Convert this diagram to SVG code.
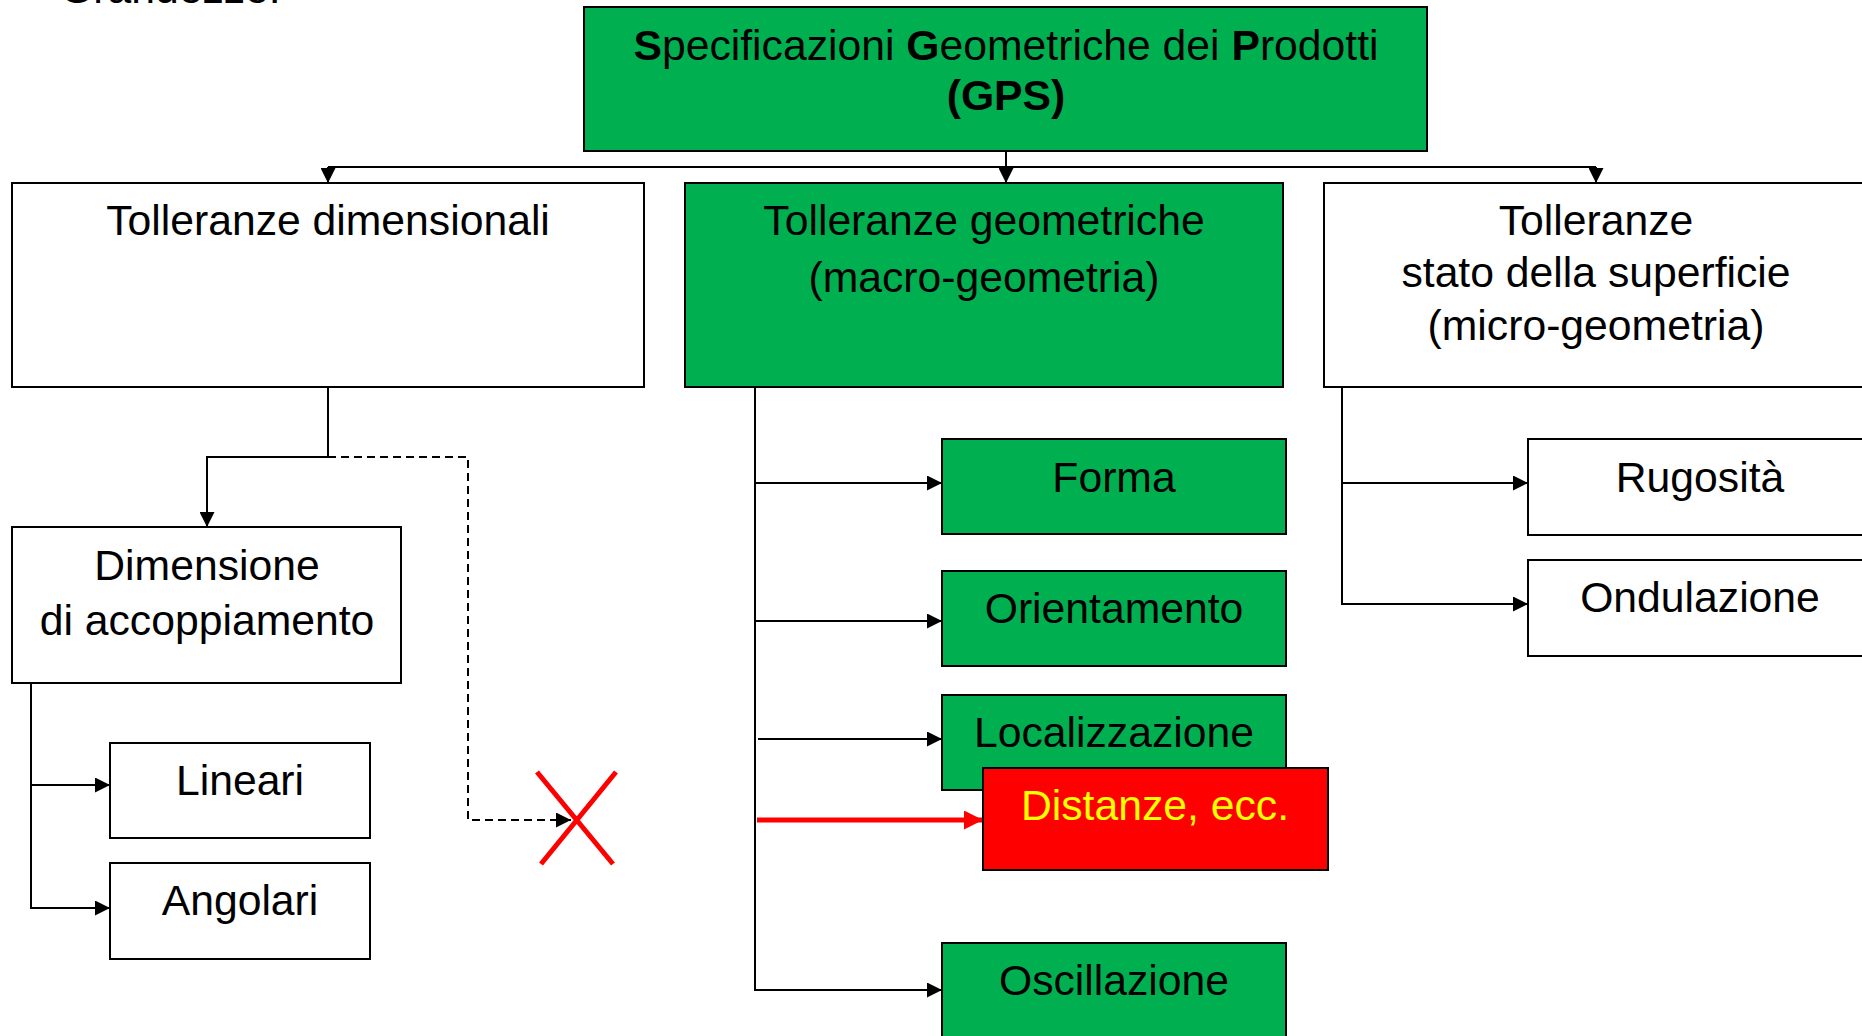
<svg xmlns="http://www.w3.org/2000/svg" width="1862" height="1036" viewBox="0 0 1862 1036">
<style>
text{font-family:"Liberation Sans",Arial,sans-serif;font-size:42.7px;fill:#000;text-anchor:middle}
.box{stroke:#000;stroke-width:2}
.w{fill:#fff}
.g{fill:#00B050}
.r{fill:#FF0000}
.c{fill:none;stroke:#000;stroke-width:2}
.a{marker-end:url(#ah)}
</style>
<defs>
<marker id="ah" markerUnits="userSpaceOnUse" markerWidth="15" markerHeight="15" refX="15" refY="7.5" orient="auto" viewBox="0 0 15 15"><path d="M0,0L15,7.5L0,15z" fill="#000"/></marker>
<marker id="ahr" markerUnits="userSpaceOnUse" markerWidth="19" markerHeight="19" refX="19" refY="9.5" orient="auto" viewBox="0 0 19 19"><path d="M0,0L19,9.5L0,19z" fill="#FF0000"/></marker>
</defs>
<rect width="1862" height="1036" fill="#fff"/>
<text x="60" y="3" style="text-anchor:start">Grandezze:</text>
<g id="connectors">
<path class="c a" d="M1006,151V183"/>
<path class="c" d="M328,167H1596"/>
<path class="c a" d="M328,167V183"/>
<path class="c a" d="M1596,167V183"/>
<path class="c a" d="M328,387V457H207V527"/>
<path class="c a" d="M328,457H468V820H571" stroke-dasharray="8,5"/>
<path class="c a" d="M31,683V908H110"/>
<path class="c a" d="M31,785H110"/>
<path class="c a" d="M755,387V990H942"/>
<path class="c a" d="M755,483H942"/>
<path class="c a" d="M755,621H942"/>
<path class="c a" d="M758,739H942"/>
<path d="M757,820H983" fill="none" stroke="#FF0000" stroke-width="5" marker-end="url(#ahr)"/>
<path class="c a" d="M1342,387V604H1528"/>
<path class="c a" d="M1342,483H1528"/>
</g>
<g id="cross">
<path d="M537,772L613,864M616,772L541,864" stroke="#FF0000" stroke-width="5" fill="none"/>
</g>
<g id="gps">
<rect class="box g" x="584" y="7" width="843" height="144"/>
<text x="1006" y="59.5"><tspan font-weight="bold">S</tspan>pecificazioni <tspan font-weight="bold">G</tspan>eometriche dei <tspan font-weight="bold">P</tspan>rodotti</text>
<text x="1006" y="110" font-weight="bold">(GPS)</text>
</g>
<g id="dimensionali">
<rect class="box w" x="12" y="183" width="632" height="204"/>
<text x="328" y="235">Tolleranze dimensionali</text>
</g>
<g id="geometriche">
<rect class="box g" x="685" y="183" width="598" height="204"/>
<text x="984" y="235">Tolleranze geometriche</text>
<text x="984" y="292">(macro-geometria)</text>
</g>
<g id="superficie">
<rect class="box w" x="1324" y="183" width="546" height="204"/>
<text x="1596" y="235">Tolleranze</text>
<text x="1596" y="287">stato della superficie</text>
<text x="1596" y="340">(micro-geometria)</text>
</g>
<g id="dimensione">
<rect class="box w" x="12" y="527" width="389" height="156"/>
<text x="207" y="580">Dimensione</text>
<text x="207" y="635">di accoppiamento</text>
</g>
<g id="lineari">
<rect class="box w" x="110" y="743" width="260" height="95"/>
<text x="240" y="795">Lineari</text>
</g>
<g id="angolari">
<rect class="box w" x="110" y="863" width="260" height="96"/>
<text x="240" y="915">Angolari</text>
</g>
<g id="forma">
<rect class="box g" x="942" y="439" width="344" height="95"/>
<text x="1114" y="492">Forma</text>
</g>
<g id="orientamento">
<rect class="box g" x="942" y="571" width="344" height="95"/>
<text x="1114" y="623">Orientamento</text>
</g>
<g id="localizzazione">
<rect class="box g" x="942" y="695" width="344" height="95"/>
<text x="1114" y="747">Localizzazione</text>
</g>
<g id="distanze">
<rect class="box r" x="983" y="768" width="345" height="102"/>
<text x="1155" y="820" style="fill:#FFFF00">Distanze, ecc.</text>
</g>
<g id="oscillazione">
<rect class="box g" x="942" y="943" width="344" height="96"/>
<text x="1114" y="995">Oscillazione</text>
</g>
<g id="rugosita">
<rect class="box w" x="1528" y="439" width="344" height="96"/>
<text x="1700" y="492">Rugosità</text>
</g>
<g id="ondulazione">
<rect class="box w" x="1528" y="560" width="344" height="96"/>
<text x="1700" y="612">Ondulazione</text>
</g>
</svg>
